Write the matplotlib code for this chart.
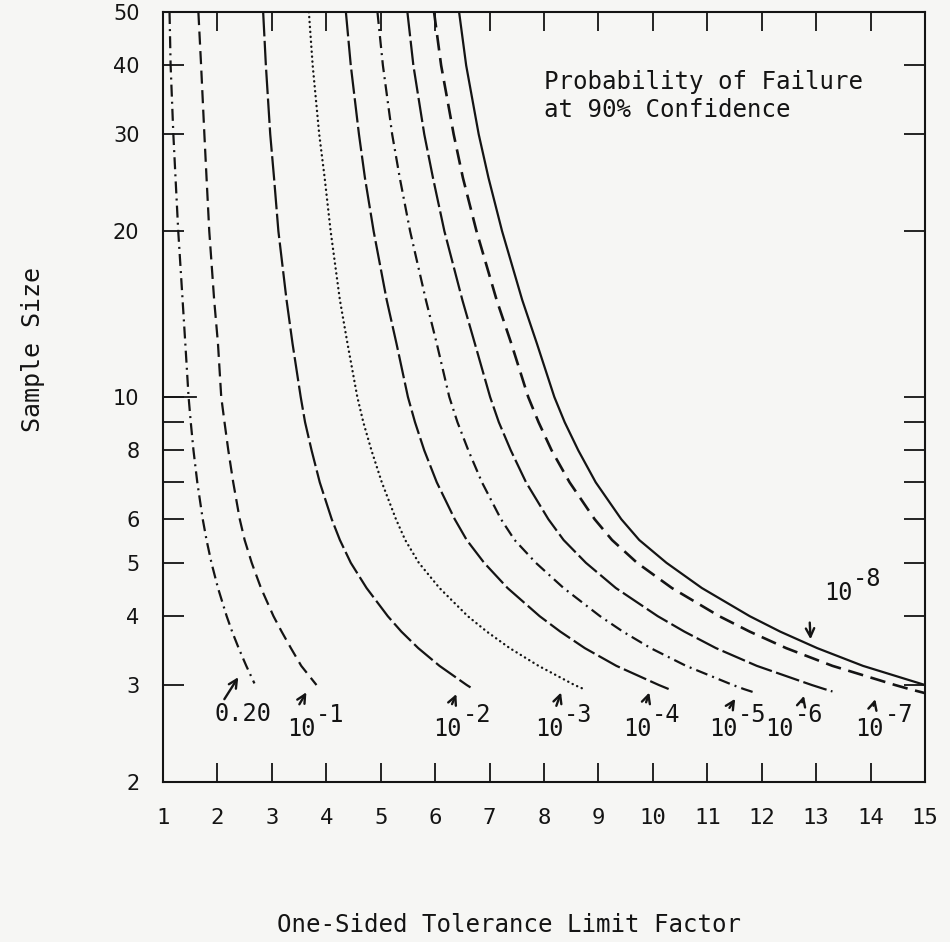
# tolerance_chart.py
# sample size vs one-sided tolerance limit factor, 90% confidence
# values

import numpy as np
import matplotlib
matplotlib.use("Agg")
import matplotlib.pyplot as plt
from matplotlib.ticker import FixedLocator, FixedFormatter, NullLocator

# ---------------- data: sample size n and tolerance factor K for each curve ----------------
n_020 = [50, 40, 30, 25, 20, 15, 12.5, 10, 9, 8, 7, 6, 5.5, 5, 4.5, 4, 3.75, 3.5, 3.25, 3.02]
k_020 = [1.12, 1.14, 1.19, 1.23, 1.28, 1.36, 1.41, 1.47, 1.51, 1.56, 1.63, 1.73, 1.80, 1.89, 2.01,
         2.17, 2.27, 2.39, 2.53, 2.68]

n_e1 = [50, 40, 30, 25, 20, 15, 12.5, 10, 9, 8, 7, 6, 5.5, 5, 4.5, 4, 3.75, 3.5, 3.25, 3.0]
k_e1 = [1.65, 1.70, 1.76, 1.80, 1.85, 1.94, 2.01, 2.07, 2.13, 2.20, 2.29, 2.41, 2.50, 2.63, 2.80,
        3.03, 3.18, 3.35, 3.54, 3.82]

n_e2 = [50, 40, 30, 25, 20, 15, 12.5, 10, 9, 8, 7, 6, 5.5, 5, 4.5, 4, 3.75, 3.5, 3.25, 3.0, 2.97]
k_e2 = [2.84, 2.89, 2.97, 3.04, 3.12, 3.27, 3.38, 3.53, 3.61, 3.73, 3.88, 4.10, 4.25, 4.45, 4.74,
        5.13, 5.38, 5.69, 6.08, 6.58, 6.65]

n_e3 = [50, 40, 30, 25, 20, 15, 12.5, 10, 9, 8, 7, 6, 5.5, 5, 4.5, 4, 3.75, 3.5, 3.25, 3.0, 2.95]
k_e3 = [3.68, 3.75, 3.87, 3.97, 4.08, 4.25, 4.39, 4.57, 4.68, 4.83, 5.02, 5.28, 5.45, 5.70, 6.08,
        6.60, 6.95, 7.37, 7.90, 8.56, 8.73]

n_e4 = [50, 40, 30, 25, 20, 15, 12.5, 10, 9, 8, 7, 6, 5.5, 5, 4.5, 4, 3.75, 3.5, 3.25, 3.0, 2.95]
k_e4 = [4.36, 4.45, 4.60, 4.71, 4.87, 5.11, 5.29, 5.50, 5.63, 5.80, 6.03, 6.36, 6.58, 6.90, 7.33,
        7.92, 8.30, 8.75, 9.33, 10.11, 10.29]

n_e5 = [50, 40, 30, 25, 20, 15, 12.5, 10, 9, 8, 7, 6, 5.5, 5, 4.5, 4, 3.75, 3.5, 3.25, 3.0, 2.95, 2.9]
k_e5 = [4.94, 5.04, 5.21, 5.35, 5.54, 5.83, 6.03, 6.26, 6.41, 6.61, 6.86, 7.21, 7.46, 7.85, 8.36,
        9.03, 9.45, 9.96, 10.61, 11.47, 11.67, 11.9]

n_e6 = [50, 40, 30, 25, 20, 15, 12.5, 10, 9, 8, 7, 6, 5.5, 5, 4.5, 4, 3.75, 3.5, 3.25, 3.0, 2.95, 2.92]
k_e6 = [5.49, 5.60, 5.80, 5.96, 6.17, 6.50, 6.73, 7.01, 7.17, 7.39, 7.67, 8.08, 8.36, 8.77, 9.32,
        10.09, 10.58, 11.16, 11.91, 12.92, 13.15, 13.3]

n_e7 = [50, 40, 30, 25, 20, 15, 12.5, 10, 9, 8, 7, 6, 5.5, 5, 4.5, 4, 3.75, 3.5, 3.25, 3.0, 2.95, 2.9]
k_e7 = [5.98, 6.11, 6.34, 6.51, 6.76, 7.13, 7.40, 7.71, 7.90, 8.14, 8.47, 8.93, 9.25, 9.71, 10.35,
        11.22, 11.78, 12.45, 13.30, 14.45, 14.71, 15.0]

n_e8 = [50, 40, 30, 25, 20, 15, 12.5, 10, 9, 8, 7, 6, 5.5, 5, 4.5, 4, 3.75, 3.5, 3.25, 3.0]
k_e8 = [6.44, 6.57, 6.80, 6.98, 7.23, 7.60, 7.87, 8.19, 8.38, 8.63, 8.95, 9.42, 9.75, 10.25, 10.90,
        11.78, 12.34, 13.02, 13.86, 15.0]

x_ticks = list(range(1, 16))
y_ticks = [2, 3, 4, 5, 6, 7, 8, 9, 10, 20, 30, 40, 50]
y_tick_labels = ['2', '3', '4', '5', '6', '', '8', '', '10', '20', '30', '40', '50']

# ---------------- styles ----------------
ink = '#141414'
paper = '#f6f6f4'
mono = 'DejaVu Sans Mono'
narrow = ['Liberation Sans Narrow', 'DejaVu Sans Mono']
lw = 1.6
dashdot = (0, (5.4, 2.3, 0.9, 2.3))
dashed = (0, (5.9, 2.9))
longdash = (0, (11, 2.0))
dotted = (0, (0.1, 2.0))

curves = [
    (n_020, k_020, dashdot, lw),
    (n_e1, k_e1, dashed, lw),
    (n_e2, k_e2, longdash, lw),
    (n_e3, k_e3, dotted, 1.7),
    (n_e4, k_e4, longdash, lw),
    (n_e5, k_e5, dashdot, lw),
    (n_e6, k_e6, longdash, lw),
    (n_e7, k_e7, dashed, 1.9),
    (n_e8, k_e8, '-', lw),
]

# curve labels: text, exponent, text position (K, n), arrow tail, arrow tip
labels = [
    ('0.20', None, (2.47, 2.66), (2.10, 2.80), (2.41, 3.13)),
    ('10', '-1', (3.54, 2.50), (3.48, 2.74), (3.66, 2.94)),
    ('10', '-2', (6.23, 2.50), (6.29, 2.74), (6.41, 2.92)),
    ('10', '-3', (8.09, 2.50), (8.21, 2.72), (8.33, 2.94)),
    ('10', '-4', (9.71, 2.50), (9.86, 2.76), (9.95, 2.94)),
    ('10', '-5', (11.29, 2.50), (11.38, 2.70), (11.54, 2.86)),
    ('10', '-6', (12.33, 2.50), (12.73, 2.76), (12.79, 2.90)),
    ('10', '-7', (13.98, 2.50), (14.04, 2.72), (14.10, 2.86)),
    ('10', '-8', (13.40, 4.41), (12.88, 3.94), (12.90, 3.59)),
]

fig = plt.figure(figsize=(9.5, 9.42), dpi=100)
fig.patch.set_facecolor(paper)
ax = fig.add_axes([163/950, 1-782/942, 762/950, 770/942])
ax.set_facecolor(paper)

for n, k, ls, w in curves:
    line, = ax.plot(k, n, color=ink, lw=w, linestyle=ls, solid_capstyle='butt')
    if ls is dotted:
        line.set_dash_capstyle('round')

ax.set_yscale('log')
ax.set_xlim(1, 15)
ax.set_ylim(2, 50)
ax.xaxis.set_major_locator(FixedLocator(x_ticks))
ax.yaxis.set_major_locator(FixedLocator(y_ticks))
ax.yaxis.set_major_formatter(FixedFormatter(y_tick_labels))
ax.yaxis.set_minor_locator(NullLocator())
ax.tick_params(axis='both', direction='in', top=True, right=True, colors=ink, width=1.3)
ax.tick_params(axis='x', length=14, pad=19)
ax.tick_params(axis='y', length=15, pad=17)
for t in ax.get_xticklabels():
    t.set_fontfamily(mono)
    t.set_fontsize(16)
for t in ax.get_yticklabels():
    t.set_fontfamily('DejaVu Sans')
    t.set_fontsize(15)
for s in ax.spines.values():
    s.set_linewidth(1.5)
    s.set_color(ink)
# the 10 tick on the left is drawn longer
ax.axhline(10, 0, 0.043, color=ink, lw=1.3)

for base, sup, pos, tail, tip in labels:
    ax.annotate('', xy=tip, xytext=tail,
                arrowprops=dict(arrowstyle='->,head_length=0.6,head_width=0.3', color=ink, lw=1.7))
    ax.text(pos[0], pos[1], base, fontfamily=mono, fontsize=17, color=ink, ha='center', va='center')
    if sup:
        ax.annotate(sup, xy=pos, xytext=(21, 10), textcoords='offset points', fontfamily=mono,
                    fontsize=17, color=ink, ha='center', va='center')

ax.text(8.0, 39.3, 'Probability of Failure\nat 90% Confidence', fontfamily=mono, fontsize=17.4,
        color=ink, ha='left', va='top', linespacing=1.25)

fig.text(509/950, 1-925/942, 'One-Sided Tolerance Limit Factor', fontfamily=mono, fontsize=17.4,
         color=ink, ha='center', va='center')
fig.text(33/950, 1-350/942, 'Sample Size', fontfamily=narrow, fontsize=18, color=ink,
         ha='center', va='center', rotation=90)

fig.savefig('out.png', dpi=100, facecolor=paper)
